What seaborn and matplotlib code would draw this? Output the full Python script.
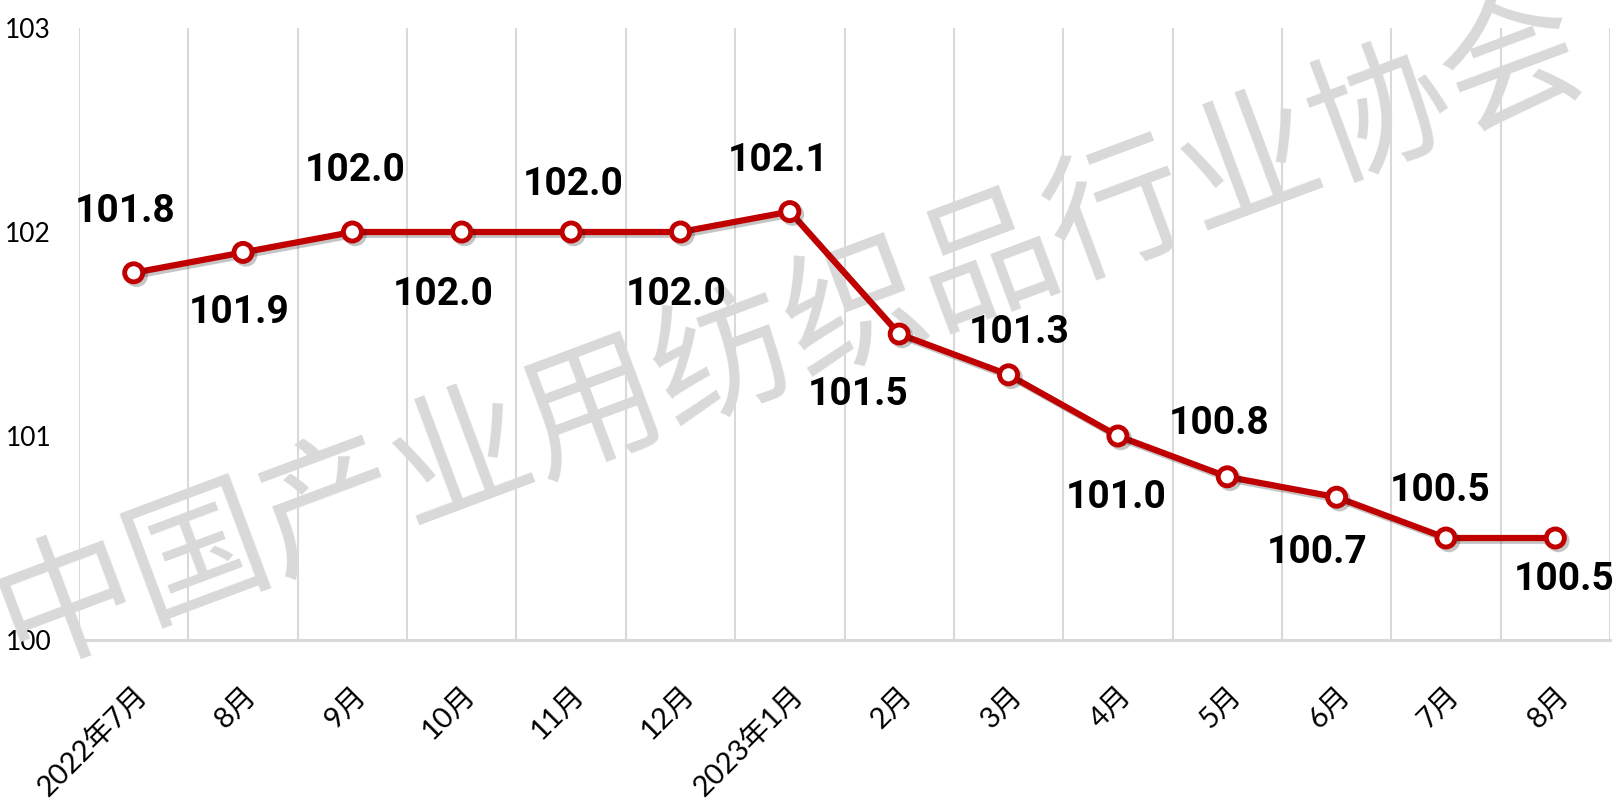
import matplotlib
matplotlib.use("Agg")
import matplotlib.pyplot as plt
import matplotlib.patheffects as pe
import seaborn as sns
import numpy as np
import pandas as pd

# data
months = ["2022年7月", "8月", "9月", "10月", "11月", "12月", "2023年1月",
          "2月", "3月", "4月", "5月", "6月", "7月", "8月"]
values = [101.8, 101.9, 102.0, 102.0, 102.0, 102.0, 102.1,
          101.5, 101.3, 101.0, 100.8, 100.7, 100.5, 100.5]
y_ticks = [100, 101, 102, 103]

# label offsets from each point, in pixels (x right, y up)
label_dx = [-9, -4, 3, -19, 2, -4, -12, -41, 11, -2, -8, -19, -6, 9]
label_dy = [61, -60, 61, -63, 47, -63, 51, -61, 42, -62, 53, -55, 47, -42]

watermark = "中国产业用纺织品行业协会"

df = pd.DataFrame({"pos": np.arange(len(months)), "month": months, "value": values})

sns.set_theme(style="white")
plt.rcParams["font.family"] = ["Lato", "Noto Sans CJK SC", "DejaVu Sans"]

W, H = 1623, 808
fig = plt.figure(figsize=(W / 100, H / 100), dpi=100)
ax = fig.add_axes([79 / W, 1 - 640 / H, (1610 - 79) / W, (640 - 28) / H])

red = "#C00000"
grid_c = "#d9d9d9"

sns.lineplot(data=df, x="pos", y="value", sort=False, ax=ax, color=red,
             linewidth=4.5, marker="o", markersize=13, markerfacecolor="white",
             markeredgecolor=red, markeredgewidth=3.5, zorder=5,
             path_effects=[pe.SimpleLineShadow(offset=(2, -2), alpha=0.25),
                           pe.Normal()])

for i, v in enumerate(values):
    ax.annotate(f"{v:.1f}", xy=(i, v), xytext=(label_dx[i], label_dy[i]),
                textcoords="offset pixels", ha="center", va="center",
                fontsize=28, fontweight="bold", family="Roboto",
                color="black", zorder=6)

ax.set_xlim(-0.5, len(months) - 0.5)
ax.set_ylim(100, 103)
ax.set_yticks(y_ticks)
ax.set_yticklabels([str(t) for t in y_ticks], fontsize=19, color="black")
ax.set_xticks(df["pos"])
ax.set_xticklabels(months, fontsize=21, rotation=45, ha="right",
                   rotation_mode="anchor", color="black")
ax.set_xticks(np.arange(-0.5, len(months)), minor=True)
ax.tick_params(axis="both", which="both", length=0)
ax.tick_params(axis="y", pad=20)
ax.tick_params(axis="x", pad=30)
ax.grid(False)
ax.grid(True, which="minor", axis="x", color=grid_c, linewidth=1.5)
ax.set_axisbelow(True)
for s in ["top", "left", "right"]:
    ax.spines[s].set_visible(False)
ax.spines["bottom"].set_color(grid_c)
ax.spines["bottom"].set_linewidth(2.2)
ax.set_xlabel("")
ax.set_ylabel("")

# watermark across the plot
ax.text(0.487, 0.585, watermark, transform=fig.transFigure, rotation=20.5,
        ha="center", va="center", fontsize=101, color=grid_c,
        family=["Noto Sans CJK SC"], fontweight=200,
        clip_on=False, zorder=1)

fig.savefig("out.png", dpi=100)
plt.close(fig)
